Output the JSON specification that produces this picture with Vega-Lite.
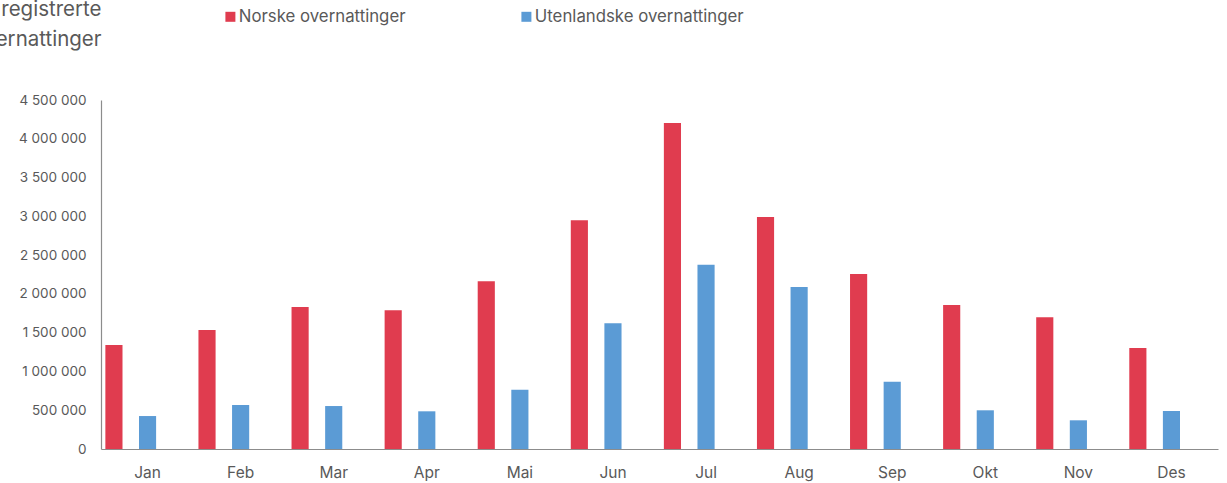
{
  "$schema": "https://vega.github.io/schema/vega-lite/v6.json",
  "width": 1117,
  "height": 349,
  "autosize": {"type": "none"},
  "padding": {"left": 101, "top": 100, "right": 9, "bottom": 34},
  "background": "white",
  "config": {
    "font": "Inter",
    "view": {"stroke": null},
    "locale": {"number": {"decimal": ",", "thousands": " ", "grouping": [3], "currency": ["", ""]}}
  },
  "data": {
    "values": [
      {"month": "Jan", "serie": "Norske overnattinger", "value": 1340000},
      {"month": "Jan", "serie": "Utenlandske overnattinger", "value": 425000},
      {"month": "Feb", "serie": "Norske overnattinger", "value": 1534000},
      {"month": "Feb", "serie": "Utenlandske overnattinger", "value": 567000},
      {"month": "Mar", "serie": "Norske overnattinger", "value": 1831000},
      {"month": "Mar", "serie": "Utenlandske overnattinger", "value": 554000},
      {"month": "Apr", "serie": "Norske overnattinger", "value": 1788000},
      {"month": "Apr", "serie": "Utenlandske overnattinger", "value": 486000},
      {"month": "Mai", "serie": "Norske overnattinger", "value": 2162000},
      {"month": "Mai", "serie": "Utenlandske overnattinger", "value": 765000},
      {"month": "Jun", "serie": "Norske overnattinger", "value": 2948000},
      {"month": "Jun", "serie": "Utenlandske overnattinger", "value": 1621000},
      {"month": "Jul", "serie": "Norske overnattinger", "value": 4203000},
      {"month": "Jul", "serie": "Utenlandske overnattinger", "value": 2377000},
      {"month": "Aug", "serie": "Norske overnattinger", "value": 2991000},
      {"month": "Aug", "serie": "Utenlandske overnattinger", "value": 2089000},
      {"month": "Sep", "serie": "Norske overnattinger", "value": 2256000},
      {"month": "Sep", "serie": "Utenlandske overnattinger", "value": 868000},
      {"month": "Okt", "serie": "Norske overnattinger", "value": 1857000},
      {"month": "Okt", "serie": "Utenlandske overnattinger", "value": 499000},
      {"month": "Nov", "serie": "Norske overnattinger", "value": 1698000},
      {"month": "Nov", "serie": "Utenlandske overnattinger", "value": 370000},
      {"month": "Des", "serie": "Norske overnattinger", "value": 1302000},
      {"month": "Des", "serie": "Utenlandske overnattinger", "value": 490000}
    ]
  },
  "mark": {"type": "bar"},
  "encoding": {
    "x": {
      "field": "month", "type": "nominal", "sort": null,
      "scale": {"paddingInner": 0, "paddingOuter": 0},
      "axis": {
        "title": null, "ticks": false, "labelAngle": 0, "labelPadding": 16,
        "labelFontSize": 15.5, "labelColor": "#595959", "domainColor": "#8c8c8c", "domainWidth": 1.2, "grid": false
      }
    },
    "xOffset": {
      "field": "serie", "type": "nominal",
      "scale": {"domain": ["Norske overnattinger", "Utenlandske overnattinger", "_"], "paddingInner": 0.49, "paddingOuter": 0.13}
    },
    "y": {
      "field": "value", "type": "quantitative",
      "scale": {"domain": [0, 4500000], "nice": false},
      "axis": {
        "title": ["registrerte", "overnattinger"],
        "titleAngle": 0, "titleAlign": "right", "titleBaseline": "alphabetic",
        "titleX": 0, "titleY": -85, "titleFontSize": 20.5, "titleFontWeight": "normal",
        "titleColor": "#595959", "titleLineHeight": 30,
        "values": [0, 500000, 1000000, 1500000, 2000000, 2500000, 3000000, 3500000, 4000000, 4500000],
        "format": ",d", "ticks": false, "grid": false, "labelPadding": 15,
        "labelFontSize": 13.5, "labelColor": "#595959", "domainColor": "#8c8c8c", "domainWidth": 1.2
      }
    },
    "color": {
      "field": "serie", "type": "nominal",
      "scale": {"domain": ["Norske overnattinger", "Utenlandske overnattinger"], "range": ["#E03C4F", "#5B9BD5"]},
      "legend": {
        "title": null, "orient": "none", "direction": "horizontal",
        "legendX": 121, "legendY": -92,
        "symbolType": "square", "symbolSize": 100, "symbolStrokeWidth": 0,
        "labelFontSize": 16.8, "labelColor": "#595959", "labelOffset": 0,
        "columnPadding": 112, "labelLimit": 400
      }
    }
  }
}
